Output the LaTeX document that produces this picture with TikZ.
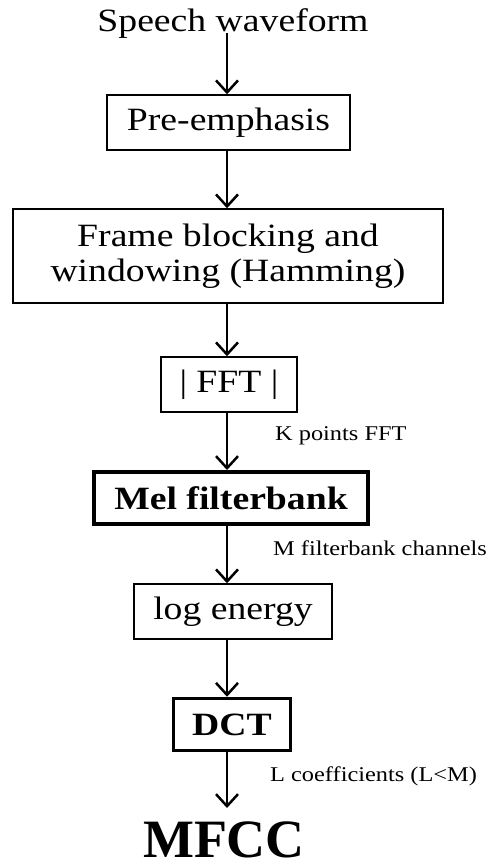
\documentclass[tikz,border=0pt]{standalone}
\usepackage{fontspec}
\setmainfont[FakeStretch=1.16]{Liberation Serif}
\newfontfamily\plainserif{Liberation Serif}
\usetikzlibrary{arrows.meta}
\begin{document}
\begin{tikzpicture}[x=1pt,y=-1pt,
  box/.style={draw, line width=1.5pt, inner sep=0pt, font=\fontsize{32.5}{35}\selectfont, align=center},
  thickbox/.style={box, font=\fontsize{32.5}{35}\selectfont\bfseries},
  arr/.style={line width=2.5pt, -{Straight Barb[length=12pt,width=22pt,line width=2.5pt]}},
  lbl/.style={anchor=base west, inner sep=0pt, font=\fontsize{21}{24}\selectfont}]
\useasboundingbox (0,0) rectangle (491,867);
\coordinate (axis) at (227,0);
\node[anchor=base, inner sep=0pt, font=\fontsize{32.5}{36}\selectfont] (sw) at (233,32) {Speech waveform};
\node[box, minimum width=243pt, minimum height=55pt] (pre) at (228.5,122.5) {Pre-emphasis};
\node[box, minimum width=430pt, minimum height=94pt] (frame) at (228,256) {Frame blocking and\\windowing (Hamming)};
\node[box, minimum width=136pt, minimum height=55pt] (fft) at (229,384.5) {| FFT |};
\node[thickbox, line width=4pt, minimum width=274pt, minimum height=52pt] (mel) at (231,498) {Mel filterbank};
\node[box, minimum width=198pt, minimum height=55pt] (log) at (233,611.5) {log energy};
\node[thickbox, line width=3.5pt, minimum width=117pt, minimum height=52pt] (dct) at (232,724.5) {DCT};
\node[anchor=base, inner sep=0pt, text depth=0pt, font=\plainserif\fontsize{54}{56}\selectfont\bfseries] (mfcc) at (224,857) {MFCC};
\coordinate (end) at (227,808);
\draw[arr] ([yshift=6pt]sw.south -| axis) -- (pre.north -| axis);
\draw[arr] (pre.south -| axis) -- (frame.north -| axis);
\draw[arr] (frame.south -| axis) -- (fft.north -| axis);
\draw[arr] (fft.south -| axis) -- (mel.north -| axis);
\draw[arr] (mel.south -| axis) -- (log.north -| axis);
\draw[arr] (log.south -| axis) -- (dct.north -| axis);
\draw[arr] (dct.south -| axis) -- (end);
\node[lbl] (k) at (275,440.5) {K points FFT};
\node[lbl] (m) at (273,555) {M filterbank channels};
\node[lbl] (l) at (270,781.5) {L coefficients (L<M)};
\end{tikzpicture}
\end{document}
